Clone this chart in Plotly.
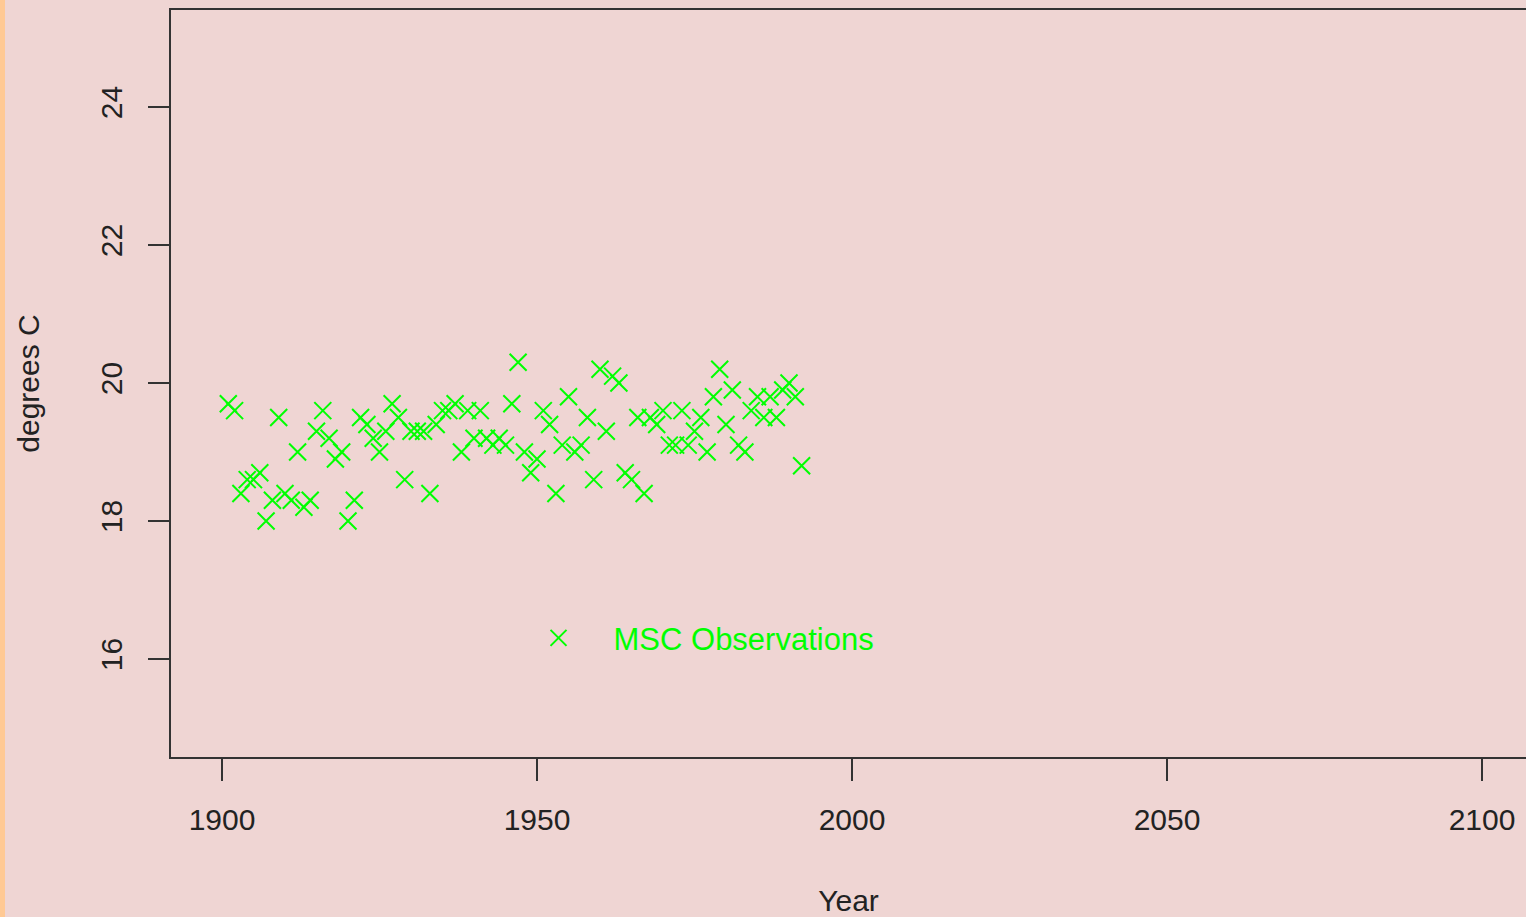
import plotly.graph_objects as go

# Annual mean temperature observations (degrees C)
years = list(range(1901, 1993))
temps = [
    19.7, 19.6, 18.4, 18.6, 18.6, 18.7, 18.0, 18.3, 19.5, 18.4,  # 1901-1910
    18.3, 19.0, 18.2, 18.3, 19.3, 19.6, 19.2, 18.9, 19.0, 18.0,  # 1911-1920
    18.3, 19.5, 19.4, 19.2, 19.0, 19.3, 19.7, 19.5, 18.6, 19.3,  # 1921-1930
    19.3, 19.3, 18.4, 19.4, 19.6, 19.6, 19.7, 19.0, 19.6, 19.2,  # 1931-1940
    19.6, 19.2, 19.1, 19.2, 19.1, 19.7, 20.3, 19.0, 18.7, 18.9,  # 1941-1950
    19.6, 19.4, 18.4, 19.1, 19.8, 19.0, 19.1, 19.5, 18.6, 20.2,  # 1951-1960
    19.3, 20.1, 20.0, 18.7, 18.6, 19.5, 18.4, 19.5, 19.4, 19.6,  # 1961-1970
    19.1, 19.1, 19.6, 19.1, 19.3, 19.5, 19.0, 19.8, 20.2, 19.4,  # 1971-1980
    19.9, 19.1, 19.0, 19.6, 19.8, 19.5, 19.8, 19.5, 19.9, 20.0,  # 1981-1990
    19.8, 18.8,                                                  # 1991-1992
]
series_name = "MSC Observations"
x_ticks = [1900, 1950, 2000, 2050, 2100]
y_ticks = [16, 18, 20, 22, 24]

bg = "#EFD5D3"
green = "#00FF00"
ink = "#222222"
font_family = "Liberation Sans, Arial, sans-serif"

fig = go.Figure()
fig.add_trace(go.Scatter(
    x=years, y=temps, mode="markers", name=series_name,
    marker=dict(symbol="x-thin-open", size=17, color=green,
                line=dict(color=green, width=2)),
))

fig.update_layout(
    width=1526, height=917,
    margin=dict(l=171, r=0, t=10, b=160),
    paper_bgcolor=bg, plot_bgcolor=bg,
    font=dict(family=font_family, size=30, color=ink),
    showlegend=True,
    legend=dict(
        x=0.2454, y=0.159, xanchor="left", yanchor="middle",
        bgcolor="rgba(0,0,0,0)", itemwidth=100,
        font=dict(size=31, color=green, family=font_family),
    ),
    xaxis=dict(
        range=[1891.905, 2106.98], tickvals=x_ticks,
        ticks="outside", ticklen=22, tickwidth=2, tickcolor="#333",
        ticklabelstandoff=13,
        showline=True, linecolor="#333", linewidth=2, mirror=True,
        showgrid=False, zeroline=False,
        title=dict(text="Year", standoff=58, font=dict(size=30)),
    ),
    yaxis=dict(
        range=[14.58, 25.406], tickvals=y_ticks, tickangle=-90,
        ticks="outside", ticklen=21, tickwidth=2, tickcolor="#333",
        ticklabelstandoff=14,
        showline=True, linecolor="#333", linewidth=2, mirror=False,
        showgrid=False, zeroline=False,
        title=dict(text="degrees C", standoff=47, font=dict(size=30)),
    ),
    shapes=[dict(
        type="rect", xref="paper", yref="paper",
        x0=-171 / 1355, x1=-166 / 1355, y0=-160 / 747, y1=1 + 10 / 747,
        fillcolor="#FFC994", line=dict(width=0), layer="below",
    )],
)

fig.write_html("out.html")
